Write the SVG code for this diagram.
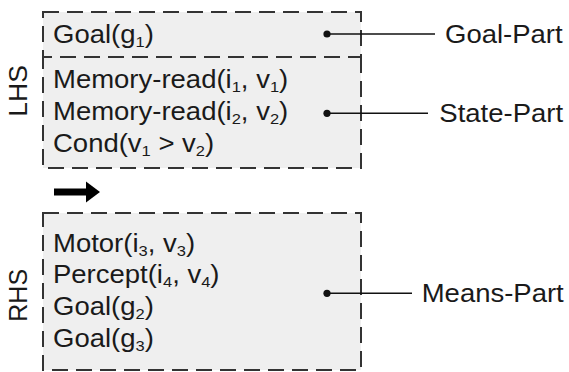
<svg xmlns="http://www.w3.org/2000/svg" width="569" height="372" viewBox="0 0 569 372">
  <style>
    .box { fill: #efefef; stroke: none; }
    .dash { fill: none; stroke: #333333; stroke-width: 2; stroke-dasharray: 16 8; }
    .t { font-family: "Liberation Sans", Arial, Helvetica, sans-serif; font-size: 25px; fill: #1a1a1a; }
    .sub { font-size: 15px; }
    .lead { stroke: #111111; stroke-width: 1.4; fill: none; }
    .dot { fill: #111111; }
  </style>

  <!-- rule left-hand side: goal part + state part -->
  <g id="lhs">
    <rect class="box" x="43" y="12" width="318" height="156"/>
    <g id="goal-part">
      <rect class="dash" x="43" y="12" width="318" height="45"/>
      <text class="t" transform="translate(53,43.3) scale(1.1,1)">Goal(g<tspan class="sub" dy="4">1</tspan><tspan dy="-4">)</tspan></text>
    </g>
    <g id="state-part">
      <path class="dash" d="M361,57 V168 H43 V57"/>
      <text class="t" transform="translate(53,88.3) scale(1.1,1)">Memory-read(i<tspan class="sub" dy="4">1</tspan><tspan dy="-4">, v</tspan><tspan class="sub" dy="4">1</tspan><tspan dy="-4">)</tspan></text>
      <text class="t" transform="translate(53,120) scale(1.1,1)">Memory-read(i<tspan class="sub" dy="4">2</tspan><tspan dy="-4">, v</tspan><tspan class="sub" dy="4">2</tspan><tspan dy="-4">)</tspan></text>
      <text class="t" transform="translate(53,151.7) scale(1.1,1)">Cond(v<tspan class="sub" dy="4">1</tspan><tspan dy="-4"> &gt; v</tspan><tspan class="sub" dy="4">2</tspan><tspan dy="-4">)</tspan></text>
    </g>
    <text class="t" transform="translate(26.5,116.7) rotate(-90) scale(1.06,1)">LHS</text>
  </g>

  <!-- implication arrow -->
  <g id="implies">
    <rect x="54" y="188.5" width="34" height="7" fill="#000"/>
    <polygon points="86,181.5 100,192 86,202.5" fill="#000"/>
  </g>

  <!-- rule right-hand side: means part -->
  <g id="rhs">
    <rect class="box" x="43" y="213" width="318" height="157"/>
    <rect class="dash" x="43" y="213" width="318" height="157"/>
    <text class="t" transform="translate(53,251.7) scale(1.1,1)">Motor(i<tspan class="sub" dy="4">3</tspan><tspan dy="-4">, v</tspan><tspan class="sub" dy="4">3</tspan><tspan dy="-4">)</tspan></text>
    <text class="t" transform="translate(53,283.3) scale(1.1,1)">Percept(i<tspan class="sub" dy="4">4</tspan><tspan dy="-4">, v</tspan><tspan class="sub" dy="4">4</tspan><tspan dy="-4">)</tspan></text>
    <text class="t" transform="translate(53,315) scale(1.1,1)">Goal(g<tspan class="sub" dy="4">2</tspan><tspan dy="-4">)</tspan></text>
    <text class="t" transform="translate(53,346.7) scale(1.1,1)">Goal(g<tspan class="sub" dy="4">3</tspan><tspan dy="-4">)</tspan></text>
    <text class="t" transform="translate(26.5,321.7) rotate(-90)">RHS</text>
  </g>

  <!-- callout labels -->
  <g id="label-goal">
    <text class="t" transform="translate(445,42.7) scale(1.1,1)">Goal-Part</text>
  </g>
  <g id="label-state">
    <text class="t" transform="translate(439.3,121.7) scale(1.1,1)">State-Part</text>
  </g>
  <g id="label-means">
    <text class="t" transform="translate(421.7,302.3) scale(1.1,1)">Means-Part</text>
  </g>

  <!-- leader lines -->
  <g id="connectors">
    <line class="lead" x1="327" y1="34" x2="435" y2="34"/>
    <circle class="dot" cx="327" cy="34" r="3.6"/>
    <line class="lead" x1="327" y1="113.3" x2="428" y2="113.3"/>
    <circle class="dot" cx="327" cy="113.3" r="3.6"/>
    <line class="lead" x1="327" y1="293.3" x2="412" y2="293.3"/>
    <circle class="dot" cx="327" cy="293.3" r="3.6"/>
  </g>
</svg>
